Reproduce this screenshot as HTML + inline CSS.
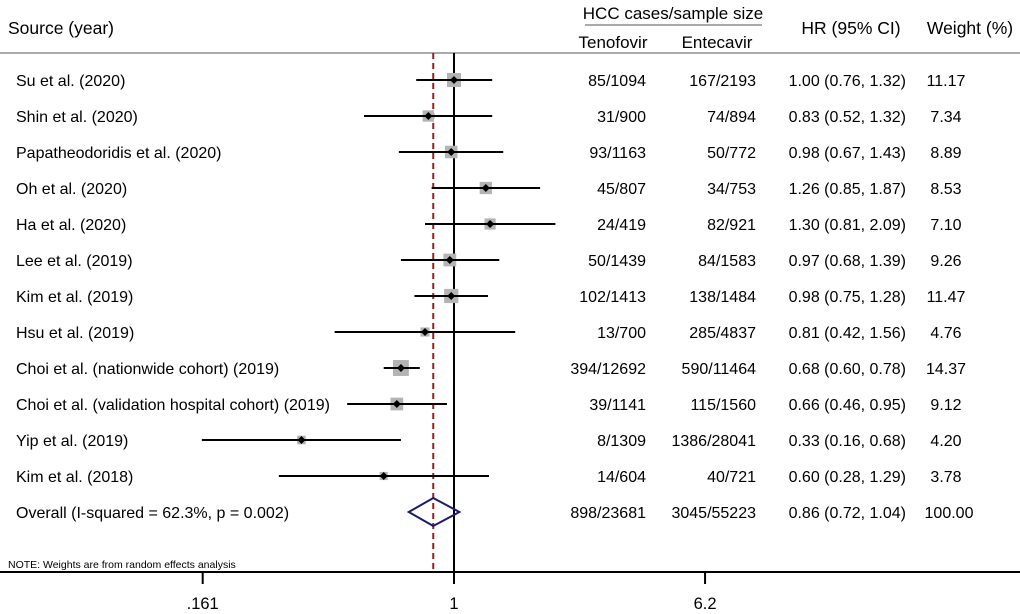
<!DOCTYPE html>
<html><head><meta charset="utf-8"><style>
body{margin:0;background:#fff}
svg{display:block;font-family:"Liberation Sans",Arial,sans-serif}
</style></head><body>
<svg id="c" width="1020" height="614" viewBox="0 0 1020 614"></svg>
<script>
const studies=["Su et al. (2020)","Shin et al. (2020)","Papatheodoridis et al.  (2020)","Oh et al. (2020)","Ha et al. (2020)","Lee et al.  (2019)","Kim et al. (2019)","Hsu et al.  (2019)","Choi et al. (nationwide cohort) (2019)","Choi et al. (validation hospital cohort) (2019)","Yip et al. (2019)","Kim et al. (2018)"];
const hr=[1.00,0.83,0.98,1.26,1.30,0.97,0.98,0.81,0.68,0.66,0.33,0.60];
const lo=[0.76,0.52,0.67,0.85,0.81,0.68,0.75,0.42,0.60,0.46,0.16,0.28];
const hi=[1.32,1.32,1.43,1.87,2.09,1.39,1.28,1.56,0.78,0.95,0.68,1.29];
const weights=["11.17","7.34","8.89","8.53","7.10","9.26","11.47","4.76","14.37","9.12","4.20","3.78"];
const teno=["85/1094","31/900","93/1163","45/807","24/419","50/1439","102/1413","13/700","394/12692","39/1141","8/1309","14/604"];
const ente=["167/2193","74/894","50/772","34/753","82/921","84/1583","138/1484","285/4837","590/11464","115/1560","1386/28041","40/721"];
const overall={label:"Overall  (I-squared = 62.3%, p = 0.002)",hr:0.86,lo:0.72,hi:1.04,teno:"898/23681",ente:"3045/55223",w:"100.00"};
const ticks=[0.161,1,6.2];
const tickLabels=[".161","1","6.2"];

const svg=document.getElementById('c');const NS="http://www.w3.org/2000/svg";
const X=v=>454+137.6*Math.log(v);
const Y=i=>80+36*i;
const FS=16;
function el(t,a,txt){const e=document.createElementNS(NS,t);for(const k in a)e.setAttribute(k,a[k]);if(txt!=null)e.textContent=txt;svg.appendChild(e);return e;}
function txt(x,y,s,anchor,size,name){const e=el('text',{x:x,y:y,'font-size':size||FS,'text-anchor':anchor||'start',fill:'#000'},s);

return e;}
txt(8,34,"Source (year)","start",17.5,"source-header");
txt(673,19,"HCC cases/sample size","middle",17,"cases-header");
txt(613,48,"Tenofovir","middle",17,"tenofovir-header");
txt(717,48,"Entecavir","middle",17,"entecavir-header");
txt(851,34,"HR (95% CI)","middle",17.5,"hr-header");
txt(970,34,"Weight (%)","middle",17.5,"weight-header");
let l=el('line',{x1:585,x2:762,y1:25,y2:25,stroke:'#aaa','stroke-width':2});


l=el('line',{x1:0,x2:1020,y1:53,y2:53,stroke:'#aaa','stroke-width':2});


l=el('line',{x1:X(1),x2:X(1),y1:53,y2:572,stroke:'#000','stroke-width':2});


l=el('line',{x1:X(overall.hr),x2:X(overall.hr),y1:53,y2:572,stroke:'#a01c1c','stroke-width':2,'stroke-dasharray':'6,4'});


studies.forEach((s,i)=>{const y=Y(i);
txt(16,y+6,s,"start",FS,"study-label");
txt(646,y+6,teno[i],"end",FS,"tenofovir-value");
txt(756,y+6,ente[i],"end",FS,"entecavir-value");
txt(906,y+6,hr[i].toFixed(2)+" ("+lo[i].toFixed(2)+", "+hi[i].toFixed(2)+")","end",FS,"hr-value");
txt(946,y+6,weights[i],"middle",FS,"weight-value");
const side=4.2*Math.sqrt(parseFloat(weights[i]));
const b=el('rect',{x:X(hr[i])-side/2,y:y-side/2,width:side,height:side,fill:'#b4b4b4'});


const ci=el('line',{x1:X(lo[i]),x2:X(hi[i]),y1:y,y2:y,stroke:'#000','stroke-width':2});


const px=X(hr[i]);
const p=el('polygon',{points:`${px-4},${y} ${px},${y-4} ${px+4},${y} ${px},${y+4}`,fill:'#000'});


});
const oy=Y(12);
txt(16,oy+6,overall.label,"start",FS,"overall-label");
txt(646,oy+6,overall.teno,"end",FS,"overall-tenofovir");
txt(756,oy+6,overall.ente,"end",FS,"overall-entecavir");
txt(906,oy+6,overall.hr.toFixed(2)+" ("+overall.lo.toFixed(2)+", "+overall.hi.toFixed(2)+")","end",FS,"overall-hr");
txt(949,oy+6,overall.w,"middle",FS,"overall-weight");
const d=el('polygon',{points:`${X(overall.lo)},${oy} ${X(overall.hr)},${oy-14} ${X(overall.hi)},${oy} ${X(overall.hr)},${oy+14}`,fill:'none',stroke:'#1a1a6e','stroke-width':2});


txt(8,568,"NOTE: Weights are from random effects analysis","start",10.5,"note");
l=el('line',{x1:0,x2:1020,y1:572,y2:572,stroke:'#000','stroke-width':2});


ticks.forEach((t,i)=>{const tk=el('line',{x1:X(t),x2:X(t),y1:572,y2:584,stroke:'#000','stroke-width':2});


txt(X(t),609,tickLabels[i],"middle",16.5,"x-tick-label");});
</script>
</body></html>
